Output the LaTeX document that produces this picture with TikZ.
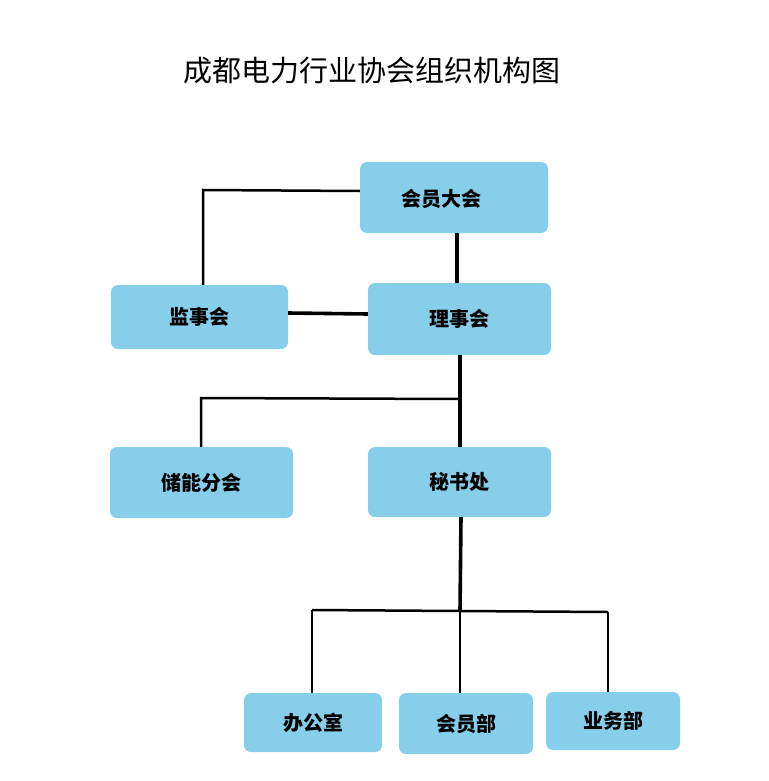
\documentclass[tikz,border=0pt]{standalone}
\usepackage{fontspec}
\newfontfamily\cjk{Noto Sans CJK SC}
\definecolor{boxblue}{HTML}{87CEEB}

\begin{document}
\begin{tikzpicture}[x=1pt,y=-1pt,
    unit/.style={rectangle,rounded corners=7pt,fill=boxblue,inner sep=0pt,
      font=\cjk\bfseries\fontsize{20}{24}\selectfont},
    link/.style={line width=2.5pt},
    trunk/.style={line width=3.6pt}]
  \useasboundingbox (0,0) rectangle (768,781);

  \node[font=\cjk\fontsize{29}{34}\selectfont] (title) at (372,71) {成都电力行业协会组织机构图};

  \node[unit,minimum width=188pt,minimum height=71pt,text depth=0pt] (assembly) at (454,197.5) {};
  \node[font=\cjk\bfseries\fontsize{20}{24}\selectfont] (assemblytxt) at (441,199) {会员大会};
  \node[unit,minimum width=183pt,minimum height=72pt] (council) at (459.5,319) {理事会};
  \node[unit,minimum width=177pt,minimum height=64pt] (supervisors) at (199.5,317) {监事会};
  \node[unit,minimum width=183pt,minimum height=71pt] (storage) at (201.5,482.5) {储能分会};
  \node[unit,minimum width=183pt,minimum height=70pt] (secretariat) at (459.5,482) {秘书处};
  \node[unit,minimum width=138pt,minimum height=59pt] (office) at (313,722.5) {办公室};
  \node[unit,minimum width=134pt,minimum height=61pt] (members) at (466,723.5) {会员部};
  \node[unit,minimum width=134pt,minimum height=58pt] (business) at (613,721) {业务部};

  % upper part
  \coordinate (c1) at (203,190);
  \coordinate (c2) at (201,398);
  \coordinate (c3) at (460,399);
  \draw[link] (assembly.west |- 0,191) -- (c1) -- (c1 |- supervisors.north);
  \draw[trunk] (assembly.south -| 457,0) -- (council.north -| 457,0);
  \draw[trunk] (supervisors.east |- 0,313) -- (council.west |- 0,314);
  \draw[trunk] (council.south -| 460,0) -- (secretariat.north -| 460,0);
  \draw[link] (c3) -- (c2) -- (c2 |- storage.north);

  % lower part
  \coordinate (b1) at (312,610);
  \coordinate (b2) at (460,611);
  \coordinate (b3) at (608,612);
  \draw[trunk] (secretariat.south -| 461,0) -- (b2);
  \draw[link] (b1) -- (b2) -- (b3);
  \draw[link] (b1) -- (b1 |- office.north);
  \draw[link] (b2) -- (b2 |- members.north);
  \draw[link] (b3) -- (b3 |- business.north);
\end{tikzpicture}
\end{document}
